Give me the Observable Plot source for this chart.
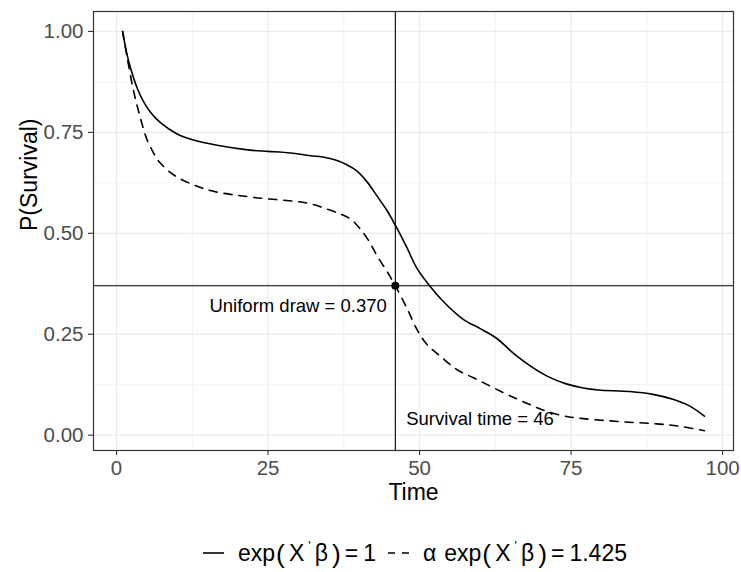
<!DOCTYPE html>
<html>
<head>
<meta charset="utf-8">
<script src="https://cdn.jsdelivr.net/npm/d3@7"></script>
<script src="https://cdn.jsdelivr.net/npm/@observablehq/plot@0.6"></script>
<style>
  html, body { margin: 0; padding: 0; background: #fff; }
  #wrap { position: relative; width: 741px; height: 572px; font-family: "Liberation Sans", Arial, Helvetica, sans-serif; }
  #legend { position: absolute; left: 203px; top: 536px; height: 34px; line-height: 34px; font-size: 23px; color: #000; white-space: nowrap; }
  #legend svg { vertical-align: middle; position: relative; top: -2px; }
  #legend .sup { font-size: 0.55em; position: relative; top: -0.9em; margin: 0 4px; }
  #legend .paren { font-size: 1.15em; vertical-align: -0.06em; line-height: 1; }
</style>
</head>
<body>
<div id="wrap"><div id="chart"></div><div id="legend"></div></div>
<script>
// ---- data ----
const solidTime = [1, 1.7, 2.3, 3.4, 4.5, 5.6, 7.25, 10, 12.7, 16.6, 22, 25, 28.7, 32, 34, 36, 38, 39.6, 41.3, 43, 44.6, 46, 47.9, 49.5, 51.4, 53.8, 57.2, 60, 62.7, 65.7, 68.5, 71.2, 74.2, 77, 79.5, 84.7, 88.5, 91.8, 94.6, 97];
const solidSurv = [1.000, 0.945, 0.910, 0.860, 0.825, 0.800, 0.774, 0.746, 0.731, 0.718, 0.706, 0.703, 0.699, 0.692, 0.689, 0.682, 0.670, 0.655, 0.628, 0.592, 0.557, 0.520, 0.465, 0.415, 0.375, 0.333, 0.287, 0.264, 0.240, 0.200, 0.169, 0.145, 0.127, 0.117, 0.112, 0.108, 0.101, 0.089, 0.072, 0.047];
const dashedTime = [1, 1.76, 2.85, 3.95, 4.9, 5.9, 7, 9.4, 12.7, 16, 22.6, 31.4, 34.7, 36.9, 38.55, 40.2, 41.6, 43, 44.9, 46, 47.9, 49.6, 51.2, 53.4, 56.1, 58.9, 61.6, 64.4, 67.1, 69.9, 73.7, 77, 83.6, 89.1, 92.9, 97];
const dashedSurv = [1.000, 0.935, 0.850, 0.785, 0.737, 0.705, 0.678, 0.645, 0.620, 0.604, 0.589, 0.575, 0.560, 0.548, 0.536, 0.511, 0.482, 0.444, 0.399, 0.370, 0.315, 0.261, 0.225, 0.196, 0.163, 0.142, 0.122, 0.101, 0.083, 0.065, 0.048, 0.041, 0.033, 0.028, 0.022, 0.011];
const xTicks = [0, 25, 50, 75, 100];
const xMinor = [12.5, 37.5, 62.5, 87.5];
const yTicks = [0, 0.25, 0.5, 0.75, 1];
const yMinor = [0.125, 0.375, 0.625, 0.875];
const survivalTime = 46;
const uniformDraw = 0.370;
const annotations = [
  {t: 44.6, v: 0.32, label: "Uniform draw = 0.370", anchor: "end"},
  {t: 47.8, v: 0.04, label: "Survival time = 46", anchor: "start"}
];
const xTitle = "Time";
const yTitle = "P(Survival)";
const legendLabels = [
  {prefix: "", rhs: "1", dash: null},
  {prefix: "α", rhs: "1.425", dash: "7,7"}
];

// ---- build tables ----
const solid = solidTime.map((t, i) => ({t, v: solidSurv[i]}));
const dashed = dashedTime.map((t, i) => ({t, v: dashedSurv[i]}));

const chart = Plot.plot({
  width: 741,
  height: 536,
  marginLeft: 93,
  marginRight: 8,
  marginTop: 11,
  marginBottom: 86,
  style: {fontFamily: '"Liberation Sans", Arial, Helvetica, sans-serif', color: "#333333", background: "white"},
  x: {domain: [-3.8, 101.8]},
  y: {domain: [-0.038, 1.0494]},
  marks: [
    Plot.gridX(xMinor, {stroke: "#EBEBEB", strokeOpacity: 1, strokeWidth: 0.7}),
    Plot.gridY(yMinor, {stroke: "#EBEBEB", strokeOpacity: 1, strokeWidth: 0.7}),
    Plot.gridX(xTicks, {stroke: "#EBEBEB", strokeOpacity: 1, strokeWidth: 1.3}),
    Plot.gridY(yTicks, {stroke: "#EBEBEB", strokeOpacity: 1, strokeWidth: 1.3}),
    Plot.axisX(xTicks, {tickSize: 5, tickFormat: () => "", color: "#333333", label: null, strokeWidth: 1.1}),
    Plot.axisX(xTicks, {tickSize: 0, tickPadding: 10, fontSize: 20.5, color: "#4D4D4D", label: null, tickFormat: d => String(d)}),
    Plot.axisY(yTicks, {tickSize: 5, tickFormat: () => "", color: "#333333", label: null, strokeWidth: 1.1}),
    Plot.axisY(yTicks, {tickSize: 0, tickPadding: 10, fontSize: 20.5, color: "#4D4D4D", label: null, tickFormat: d3.format(".2f")}),
    Plot.line(solid, {x: "t", y: "v", stroke: "black", strokeWidth: 1.6, curve: "catmull-rom"}),
    Plot.line(dashed, {x: "t", y: "v", stroke: "black", strokeWidth: 1.6, strokeDasharray: "8,7", curve: "catmull-rom"}),
    Plot.ruleX([survivalTime], {stroke: "black", strokeWidth: 1.1}),
    Plot.ruleY([uniformDraw], {stroke: "black", strokeWidth: 1.1}),
    Plot.dot([{t: survivalTime, v: uniformDraw}], {x: "t", y: "v", r: 4, fill: "black"}),
    Plot.text(annotations.filter(d => d.anchor === "end"), {x: "t", y: "v", text: "label", textAnchor: "end", fontSize: 18.5, fill: "black"}),
    Plot.text(annotations.filter(d => d.anchor === "start"), {x: "t", y: "v", text: "label", textAnchor: "start", fontSize: 18.5, fill: "black"}),
    Plot.frame({stroke: "#333333", strokeWidth: 1.2}),
    Plot.text([xTitle], {frameAnchor: "bottom", lineAnchor: "middle", dy: 42.6, text: d => d, fontSize: 23, fill: "black"}),
    Plot.text([yTitle], {frameAnchor: "left", lineAnchor: "middle", dx: -64.3, rotate: -90, text: d => d, fontSize: 23, fill: "black"})
  ]
});
document.getElementById("chart").appendChild(chart);

// ---- legend (HTML below the plot area) ----
const legend = document.getElementById("legend");
const ns = "http://www.w3.org/2000/svg";
legendLabels.forEach((item, i) => {
  const key = document.createElementNS(ns, "svg");
  key.setAttribute("width", 21);
  key.setAttribute("height", 10);
  key.style.marginLeft = i === 0 ? "0px" : "12px";
  key.style.marginRight = "14px";
  const ln = document.createElementNS(ns, "line");
  ln.setAttribute("x1", 0); ln.setAttribute("x2", 21);
  ln.setAttribute("y1", 5); ln.setAttribute("y2", 5);
  ln.setAttribute("stroke", "black"); ln.setAttribute("stroke-width", 1.6);
  if (item.dash) ln.setAttribute("stroke-dasharray", item.dash);
  key.appendChild(ln);
  legend.appendChild(key);
  const html =
    (item.prefix ? `<span style="margin-right:8px">${item.prefix}</span>` : "") +
    `exp<span class="paren" style="margin-left:1px">(</span>` +
    `<span style="margin-left:4px">X</span><span class="sup">'</span><span style="margin-right:4px">β</span>` +
    `<span class="paren">)</span><span style="margin-left:4px;margin-right:5px">=</span>${item.rhs}`;
  const wrap = document.createElement("span");
  wrap.innerHTML = html;
  legend.appendChild(wrap);
});
</script>
</body>
</html>
